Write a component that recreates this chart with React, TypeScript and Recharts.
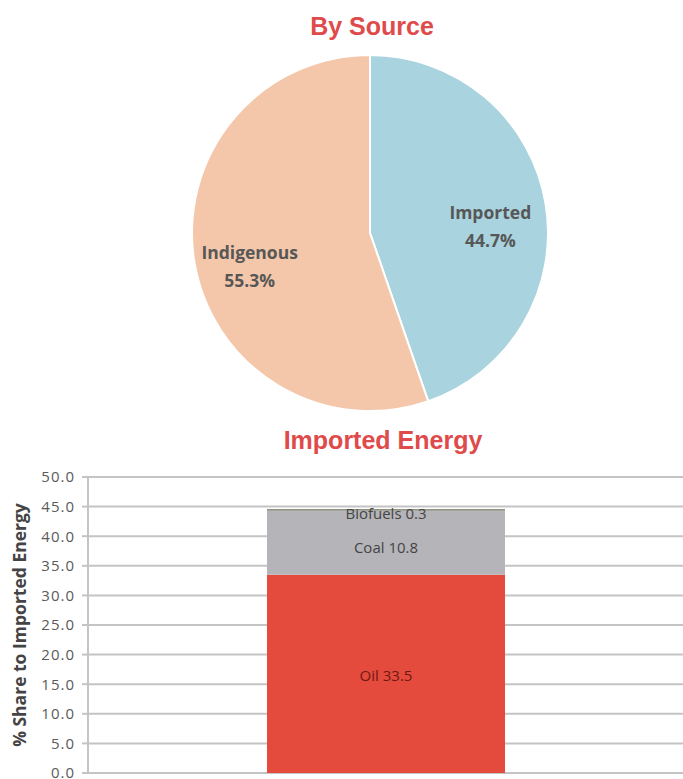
import React from "react"
import { PieChart, Pie, Cell, BarChart, Bar, XAxis, YAxis, CartesianGrid, LabelList } from "recharts"

// pie: share by source
const sourceNames = ["Imported", "Indigenous"]
const sourceShares = [44.7, 55.3]
const sourceColors = ["#a9d3de", "#f5c7aa"]

// stacked bar: imported energy breakdown
const categories = ["Imported"]
const oilShare = [33.5]
const coalShare = [10.8]
const biofuelShare = [0.3]
const yTicks = [0, 5, 10, 15, 20, 25, 30, 35, 40, 45, 50]

const pieData = sourceNames.map((name, i) => ({ name, value: sourceShares[i] }))
const barData = categories.map((name, i) => ({
  name,
  oil: oilShare[i],
  coal: coalShare[i],
  biofuels: biofuelShare[i],
}))

const RAD = Math.PI / 180
const titleStyle: React.CSSProperties = {
  position: "absolute",
  fontFamily: "'Liberation Sans', Arial, sans-serif",
  fontWeight: 700,
  fontSize: 25,
  color: "#df4a4b",
  whiteSpace: "nowrap",
  transform: "translate(-50%, -50%)",
}

function PieLabel(props: any) {
  const { cx, cy, midAngle, name, value } = props
  const r = 122
  const x = cx + r * Math.cos(-midAngle * RAD)
  const y = cy + r * Math.sin(-midAngle * RAD) + 14
  return (
    <text
      x={x}
      y={y}
      textAnchor="middle"
      fill="#575757"
      fontFamily="'Open Sans', sans-serif"
      fontWeight={700}
      fontSize={17.5}
    >
      <tspan x={x} dy={-8}>{name}</tspan>
      <tspan x={x} dy={28}>{value.toFixed(1)}%</tspan>
    </text>
  )
}

const segLabel = (title: string, color: string, shift: number) => (props: any) => {
  const { x, y, width, height, value } = props
  return (
    <text
      x={x + width / 2}
      y={y + height / 2 + shift}
      textAnchor="middle"
      dominantBaseline="central"
      fill={color}
      fontFamily="'Open Sans', sans-serif"
      fontSize={15}
    >
      {title} {value}
    </text>
  )
}

export default function App() {
  return (
    <div style={{ position: "absolute", left: 0, top: 0, width: 683, height: 779, background: "#fff" }}>
      <div style={{ ...titleStyle, left: 372, top: 26 }}>By Source</div>
      <div style={{ position: "absolute", left: 0, top: 0 }}>
        <PieChart width={683} height={425} margin={{ top: 0, right: 0, bottom: 0, left: 0 }}>
          <Pie
            data={pieData}
            dataKey="value"
            nameKey="name"
            cx={370}
            cy={233}
            outerRadius={178}
            startAngle={90}
            endAngle={-270}
            stroke="#ffffff"
            strokeWidth={2}
            label={PieLabel}
            labelLine={false}
            isAnimationActive={false}
          >
            {pieData.map((d, i) => (
              <Cell key={d.name} fill={sourceColors[i]} />
            ))}
          </Pie>
        </PieChart>
      </div>

      <div style={{ ...titleStyle, left: 383, top: 440 }}>Imported Energy</div>
      <div style={{ position: "absolute", left: 0, top: 460 }}>
        <BarChart width={683} height={319} data={barData} margin={{ top: 17, right: 0, left: 0, bottom: 6 }}>
          <CartesianGrid vertical={false} stroke="#c4c4c4" strokeWidth={2} />
          <XAxis dataKey="name" hide />
          <YAxis
            width={88}
            domain={[0, 50]}
            ticks={yTicks}
            interval={0}
            tickFormatter={(v: number) => v.toFixed(1)}
            tick={{ fill: "#5a5a5a", fontSize: 15, letterSpacing: 1, dx: -5, fontFamily: "'Open Sans', sans-serif" }}
            axisLine={{ stroke: "#c4c4c4", strokeWidth: 2 }}
            tickLine={{ stroke: "#c4c4c4", strokeWidth: 2 }}
            tickSize={6}
            label={{
              value: "% Share to Imported Energy",
              angle: -90,
              position: "insideLeft",
              offset: 20,
              style: { textAnchor: "middle", fontWeight: 700, fontSize: 17.5, fill: "#444", fontFamily: "'Open Sans', sans-serif" },
            }}
          />
          <Bar dataKey="oil" stackId="a" fill="#e54b3c" barSize={238} isAnimationActive={false}>
            <LabelList dataKey="oil" content={segLabel("Oil", "#6e1812", 1)} />
          </Bar>
          <Bar dataKey="coal" stackId="a" fill="#b4b4b9" barSize={238} isAnimationActive={false}>
            <LabelList dataKey="coal" content={segLabel("Coal", "#444", 4)} />
          </Bar>
          <Bar dataKey="biofuels" stackId="a" fill="#8f9180" barSize={238} isAnimationActive={false}>
            <LabelList dataKey="biofuels" content={segLabel("Biofuels", "#444", 3)} />
          </Bar>
        </BarChart>
      </div>
    </div>
  )
}
